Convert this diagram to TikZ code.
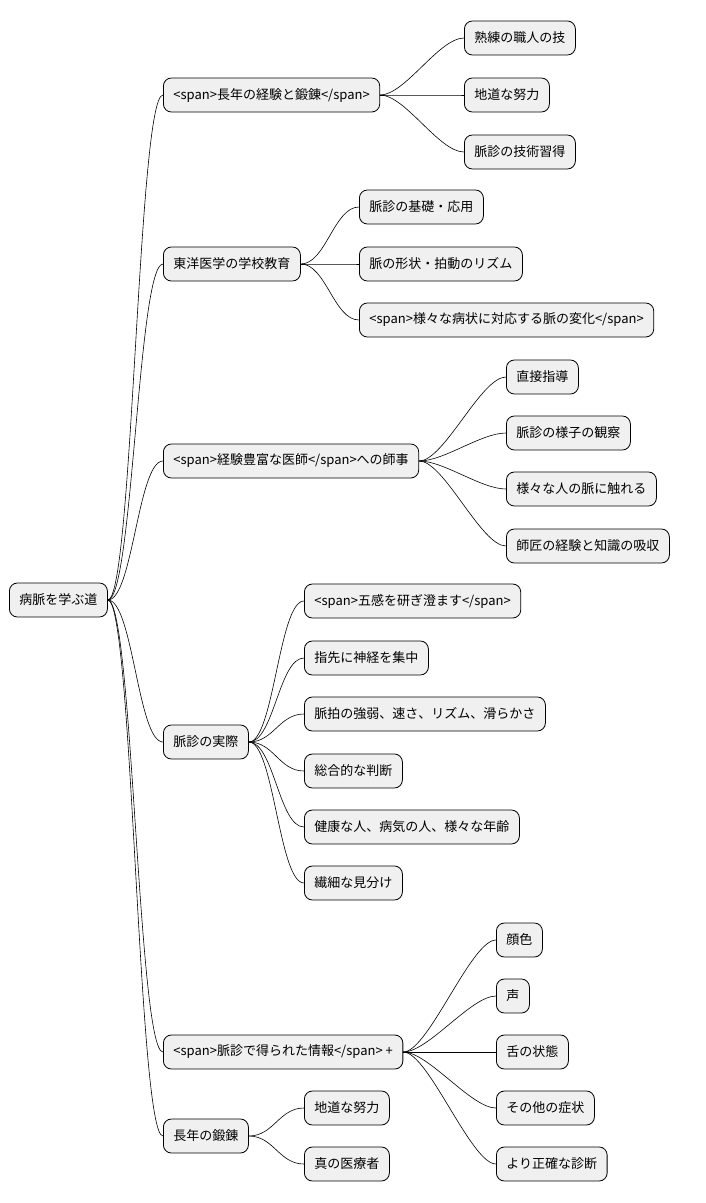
\documentclass[tikz,border=0pt]{standalone}
\usepackage{fontspec}
\newfontfamily\jpfont{Noto Sans CJK JP}
\begin{document}
\begin{tikzpicture}[x=1pt,y=-1pt,line cap=round,line join=round,
    topic/.style={draw=black,fill=black!6,rounded corners=8pt,anchor=west,
      minimum height=34pt,inner xsep=10pt,line width=0.8pt,font=\jpfont\fontsize{13}{15}\selectfont},
    link/.style={line width=0.6pt}]
  \useasboundingbox (0,0) rectangle (705,1203);
  % root
  \node[topic] (root) at (9,600) {病脈を学ぶ道};
  % first level
  \node[topic] (keiken) at (163,95) {<span>長年の経験と鍛錬</span>};
  \node[topic] (gakko) at (163,264) {東洋医学の学校教育};
  \node[topic] (shiji) at (163,461) {<span>経験豊富な医師</span>への師事};
  \node[topic] (jissai) at (163,742) {脈診の実際};
  \node[topic] (joho) at (163,1052) {<span>脈診で得られた情報</span> +};
  \node[topic] (tanren) at (163,1136) {長年の鍛錬};
  % second level
  \node[topic] (k1) at (464,38) {熟練の職人の技};
  \node[topic] (k2) at (464,95) {地道な努力};
  \node[topic] (k3) at (464,152) {脈診の技術習得};
  \node[topic] (g1) at (359,207) {脈診の基礎・応用};
  \node[topic] (g2) at (359,264) {脈の形状・拍動のリズム};
  \node[topic] (g3) at (359,320) {<span>様々な病状に対応する脈の変化</span>};
  \node[topic] (s1) at (506,377) {直接指導};
  \node[topic] (s2) at (506,433) {脈診の様子の観察};
  \node[topic] (s3) at (506,489) {様々な人の脈に触れる};
  \node[topic] (s4) at (506,546) {師匠の経験と知識の吸収};
  \node[topic] (j1) at (304,601) {<span>五感を研ぎ澄ます</span>};
  \node[topic] (j2) at (304,658) {指先に神経を集中};
  \node[topic] (j3) at (304,714) {脈拍の強弱、速さ、リズム、滑らかさ};
  \node[topic] (j4) at (304,771) {総合的な判断};
  \node[topic] (j5) at (304,827) {健康な人、病気の人、様々な年齢};
  \node[topic] (j6) at (304,883) {繊細な見分け};
  \node[topic] (h1) at (496,940) {顔色};
  \node[topic] (h2) at (496,996) {声};
  \node[topic] (h3) at (496,1052) {舌の状態};
  \node[topic] (h4) at (496,1108) {その他の症状};
  \node[topic] (h5) at (496,1164) {より正確な診断};
  \node[topic] (t1) at (304,1108) {地道な努力};
  \node[topic] (t2) at (304,1164) {真の医療者};
  % connectors
  \foreach \p/\c in {root/keiken,root/gakko,root/shiji,root/jissai,root/joho,root/tanren,
      keiken/k1,keiken/k2,keiken/k3,gakko/g1,gakko/g2,gakko/g3,
      shiji/s1,shiji/s2,shiji/s3,shiji/s4,
      jissai/j1,jissai/j2,jissai/j3,jissai/j4,jissai/j5,jissai/j6,
      joho/h1,joho/h2,joho/h3,joho/h4,joho/h5,tanren/t1,tanren/t2}
    \draw[link] (\p.east) .. controls +(25,0) and +(-25,0) .. (\c.west);
\end{tikzpicture}
\end{document}
